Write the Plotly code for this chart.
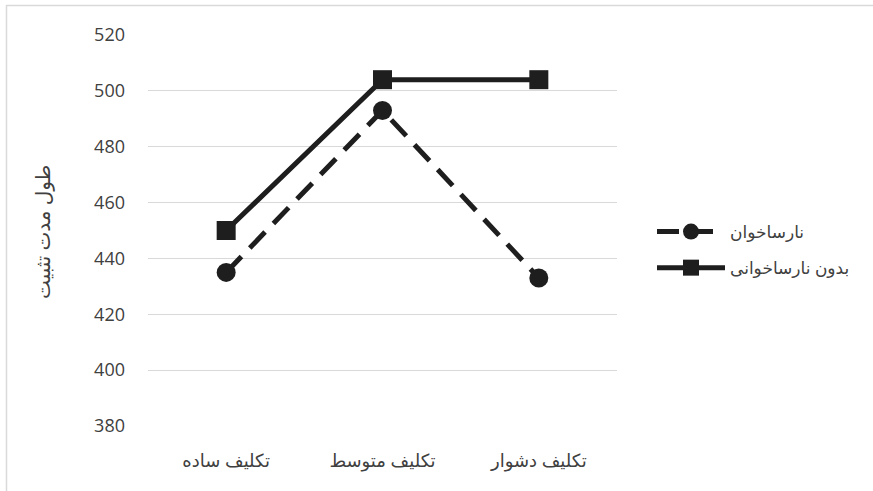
import plotly.graph_objects as go

# Task difficulty levels (x categories)
tasks = ["تکلیف ساده", "تکلیف متوسط", "تکلیف دشوار"]

# Mean fixation duration per group
dyslexic = [435, 493, 433]
non_dyslexic = [450, 504, 504]

series_names = ["نارساخوان", "بدون نارساخوانی"]

y_ticks = [380, 400, 420, 440, 460, 480, 500, 520]
y_title = "طول مدت تثبیت"

W, H = 873, 491
L, R, T, B = 148, 256, 35, 65
PW, PH = W - L - R, H - T - B

FONT = "Open Sans, DejaVu Sans, sans-serif"
TXT = "#404040"
INK = "#1e1e1e"
GRID = "#d9d9d9"

fig = go.Figure()
fig.add_trace(go.Scatter(
    x=tasks, y=dyslexic, name=series_names[0], mode="lines+markers",
    legendgroup="a",
    line=dict(color=INK, width=5, dash="22px,12px"),
    marker=dict(symbol="circle", size=19, color=INK),
))
fig.add_trace(go.Scatter(
    x=tasks, y=non_dyslexic, name=series_names[1], mode="lines+markers",
    legendgroup="b",
    line=dict(color=INK, width=5),
    marker=dict(symbol="square", size=19, color=INK),
))

def px_x(p):
    return (p - L) / PW

def px_y(p):
    return 1 - (p - T) / PH

fig.update_layout(
    width=W, height=H,
    margin=dict(l=L, r=R, t=T, b=B, pad=0, autoexpand=False),
    paper_bgcolor="white", plot_bgcolor="white",
    font=dict(family=FONT, size=18, color=TXT),
    showlegend=True,
    legend=dict(
        x=px_x(652), y=px_y(214), xanchor="left", yanchor="top",
        itemwidth=68, font=dict(size=17, color=TXT),
        bgcolor="rgba(0,0,0,0)", tracegroupgap=11,
    ),
    xaxis=dict(
        range=[-0.5, 2.5],
        showgrid=False, showline=False, zeroline=False, ticks="",
        tickfont=dict(size=18, color=TXT), ticklabelstandoff=22,
    ),
    yaxis=dict(
        range=[380, 520], tickvals=y_ticks, showgrid=True, gridcolor=GRID,
        gridwidth=1.3, zeroline=False, showline=False, ticks="",
        tickfont=dict(size=18, color=TXT), ticklabelstandoff=22,
    ),
    annotations=[dict(
        text=y_title, textangle=-90, showarrow=False,
        xref="paper", yref="paper", x=px_x(42), y=px_y(232),
        xanchor="center", yanchor="middle",
        font=dict(size=20, color=TXT),
    )],
    shapes=[
        dict(type="line", xref="paper", yref="paper",
             x0=px_x(6.5), x1=px_x(6.5), y0=px_y(5), y1=px_y(H + 5),
             line=dict(color=GRID, width=1.5)),
        dict(type="line", xref="paper", yref="paper",
             x0=px_x(6), x1=px_x(W + 5), y0=px_y(5.5), y1=px_y(5.5),
             line=dict(color=GRID, width=1.5)),
    ],
)

fig.write_html("out.html")
